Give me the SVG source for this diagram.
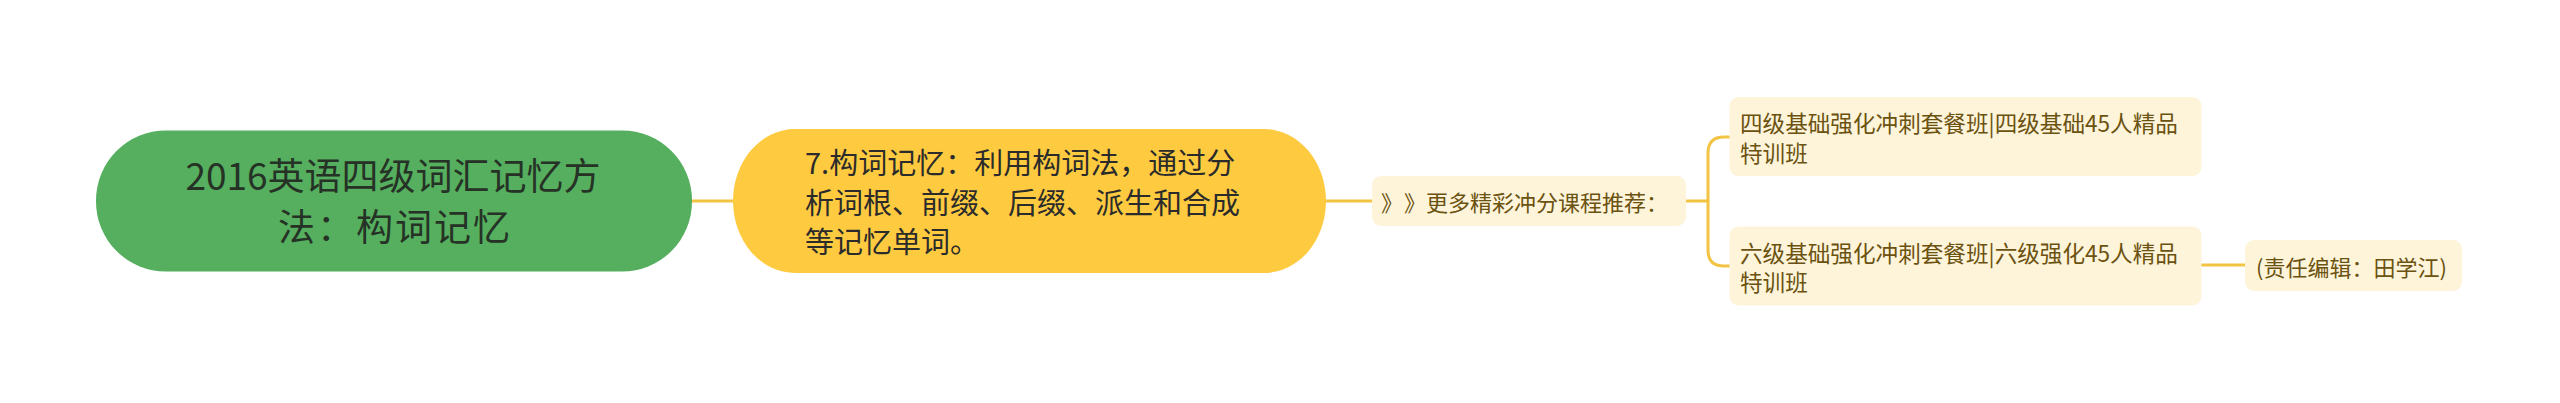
<svg xmlns="http://www.w3.org/2000/svg" width="2560" height="403" viewBox="0 0 2560 403">
<style>
text{font-family:"Noto Sans CJK SC","Noto Sans",sans-serif;}
.root{fill:#55af5e;}
.rootT{font-size:37px;fill:#263226;}
.main{fill:#fdca40;}
.mainT{font-size:29px;fill:#2b2b2b;}
.sub{fill:#fef4d9;}
.subT{font-size:22px;fill:#6b5210;}
.subT2{font-size:22.6px;fill:#6b5210;}
.link{fill:none;stroke:#f3c343;stroke-width:3;stroke-linecap:round;stroke-linejoin:round;}
</style>
<rect width="2560" height="403" fill="#ffffff"/>
<g id="connectors">
<path class="link" d="M692 201 H733"/>
<path class="link" d="M1326 201 H1372"/>
<path class="link" d="M1686 201 H1708"/>
<path class="link" d="M1729 137 H1724 Q1708 137 1708 153 V250 Q1708 266 1724 266 H1729"/>
<path class="link" d="M2202 265 H2245"/>
</g>
<g id="node-root">
<rect class="root" x="96" y="130.5" width="596" height="141" rx="70" ry="70"/>
<text class="rootT" x="393" y="190" text-anchor="middle">2016英语四级词汇记忆方</text>
<text class="rootT" x="395" y="241" text-anchor="middle" letter-spacing="2">法：构词记忆</text>
</g>
<g id="node-main">
<rect class="main" x="733" y="129" width="593" height="144" rx="62" ry="72"/>
<text class="mainT" x="805" y="174">7.构词记忆：利用构词法，通过分</text>
<text class="mainT" x="805" y="213.5">析词根、前缀、后缀、派生和合成</text>
<text class="mainT" x="805" y="253">等记忆单词。</text>
</g>
<g id="node-more">
<rect class="sub" x="1372" y="176" width="314" height="50" rx="9"/>
<text class="subT" y="211"><tspan x="1381">》</tspan><tspan x="1404">》</tspan><tspan x="1426">更多精彩冲分课程推荐：</tspan></text>
</g>
<g id="node-cet4">
<rect class="sub" x="1729.5" y="97" width="472" height="79" rx="9"/>
<text class="subT2" x="1740" y="131.5">四级基础强化冲刺套餐班|四级基础45人精品</text>
<text class="subT2" x="1740" y="161.5">特训班</text>
</g>
<g id="node-cet6">
<rect class="sub" x="1729.5" y="226.5" width="472" height="79" rx="9"/>
<text class="subT2" x="1740" y="261.5">六级基础强化冲刺套餐班|六级强化45人精品</text>
<text class="subT2" x="1740" y="291">特训班</text>
</g>
<g id="node-editor">
<rect class="sub" x="2245" y="240" width="217" height="51" rx="9"/>
<text class="subT" x="2256" y="275.5">(责任编辑：田学江)</text>
</g>
</svg>
